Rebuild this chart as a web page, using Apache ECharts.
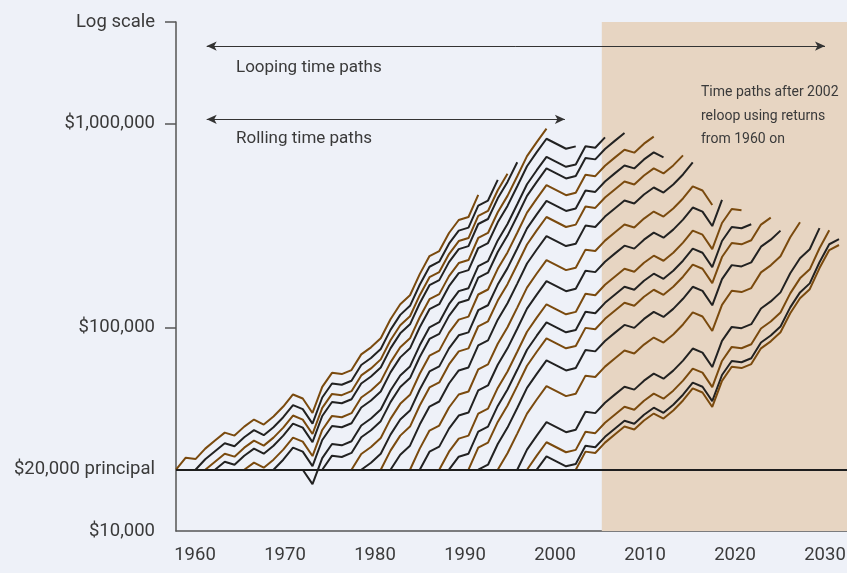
<!DOCTYPE html>
<html>
<head>
<meta charset="utf-8">
<script src="https://cdn.jsdelivr.net/npm/echarts@6/dist/echarts.min.js"></script>
<style>
  html, body { margin: 0; padding: 0; background: #eef1f8; }
  #main { width: 847px; height: 573px; }
</style>
</head>
<body>
<div id="main"></div>
<script>
// growth of $1 over the years, one value per year from 1960
const firstYear = 1960;
const growthIndex = [1.00, 1.146, 1.128, 1.269, 1.390, 1.521, 1.471, 1.628, 1.764, 1.666,
  1.824, 2.043, 2.342, 2.237, 1.900, 2.552, 2.991, 2.948, 3.085, 3.686,
  3.990, 4.419, 5.483, 6.498, 7.196, 9.134, 11.20, 11.86, 14.54, 16.85,
  17.43, 22.38, 23.68, 29.92, 36.03, 45.00, 56.45, 66.18, 77.02, 72.78,
  68.77, 70.66, 86.69, 85.33, 96.00, 105.2, 115.1, 111.3, 123.2, 133.4,
  126.0, 138.0, 154.6, 177.2, 169.2, 143.7, 193.1, 226.3, 223.0, 233.4,
  278.8, 301.8, 334.3, 414.8, 491.6, 544.4, 691.0, 847.3, 897.2];

// each time path starts with the principal in one year and runs pathYears
const principal = 20000;
const pathYears = 31;
const brownStarts = [1960, 1963, 1967, 1978, 1981, 1984, 1987, 1990, 1993, 1996, 2001];
const blackStarts = [1962, 1964, 1970, 1973, 1975, 1979, 1982, 1985, 1988, 1991, 1995, 1997];

const xTickLabels = [1960, 1970, 1980, 1990, 2000, 2010, 2020, 2030];
const yTickLabels = {10000: '$10,000', 20000: '$20,000 principal', 100000: '$100,000',
  1000000: '$1,000,000', 3162277: 'Log scale'};
const yTickMarks = [100000, 1000000, 3162277];

const reloopStart = 2005.2;
const loopingSpan = [1961.3, 2030.0];
const rollingSpan = [1961.3, 2001.1];

const brown = '#7a4a0e';
const black = '#222222';
const textColor = '#3a3a3a';
const font = 'Roboto, "Liberation Sans", sans-serif';

const lastIdx = growthIndex.length - 1;
function pathSeries(sy, color) {
  const s = sy - firstYear;
  const pts = [];
  for (let i = s; i <= Math.min(s + pathYears, lastIdx); i++) {
    pts.push([firstYear + i, principal * growthIndex[i] / growthIndex[s]]);
  }
  return {
    type: 'line',
    xAxisIndex: 0,
    data: pts,
    showSymbol: false,
    silent: true,
    z: 3,
    lineStyle: { color: color, width: 2 }
  };
}
const allPaths = brownStarts.map(function (y) { return [y, brown]; })
  .concat(blackStarts.map(function (y) { return [y, black]; }))
  .sort(function (a, b) { return a[0] - b[0]; })
  .map(function (p) { return pathSeries(p[0], p[1]); });

const chart = echarts.init(document.getElementById('main'));
chart.setOption({
  backgroundColor: '#eef1f8',
  animation: false,
  textStyle: { fontFamily: font },
  grid: { left: 176, right: 0, top: 22, bottom: 42, containLabel: false, outerBoundsMode: 'none' },
  xAxis: [
    { type: 'value', min: firstYear, max: firstYear + 671 / 9.75, show: false },
    {
      type: 'value', position: 'bottom', min: 1957.889, max: 2032.444,
      axisLine: { show: true, onZero: false, lineStyle: { color: '#555', width: 1.5 } },
      axisTick: { show: false },
      splitLine: { show: false },
      axisLabel: {
        customValues: xTickLabels, margin: 15, color: textColor, fontSize: 18.5,
        fontFamily: font, formatter: function (v) { return String(Math.round(v)); }
      }
    }
  ],
  yAxis: {
    type: 'log', logBase: 10, min: 10000, max: 3162278,
    axisLine: { show: true, lineStyle: { color: '#555', width: 1.5 } },
    axisTick: { show: true, customValues: yTickMarks, length: 11, lineStyle: { color: '#555', width: 1.5 } },
    splitLine: { show: false },
    axisLabel: {
      customValues: [10000, 20000, 100000, 1000000, 3162277], margin: 21,
      color: textColor, fontSize: 18.5, fontFamily: font,
      formatter: function (v) { return yTickLabels[Math.round(v)] || ''; }
    }
  },
  series: [{
    type: 'line',
    xAxisIndex: 1,
    data: [],
    silent: true,
    z: 1,
    markArea: {
      silent: true,
      itemStyle: { color: '#e7d5c2' },
      data: [[{ xAxis: reloopStart }, { xAxis: 2032.444 }]]
    },
    markLine: {
      silent: true,
      symbol: ['arrow', 'arrow'],
      symbolSize: [7, 10],
      label: { show: false },
      lineStyle: { color: '#333', width: 1, type: 'solid' },
      data: [
        [{ coord: [loopingSpan[0], 2409000] }, { coord: [loopingSpan[1], 2409000] }],
        [{ coord: [rollingSpan[0], 1052000] }, { coord: [rollingSpan[1], 1052000] }]
      ]
    }
  }, {
    type: 'line',
    xAxisIndex: 1,
    data: [],
    silent: true,
    z: 4,
    markLine: {
      silent: true,
      symbol: ['none', 'none'],
      label: { show: false },
      lineStyle: { color: '#1e1e1e', width: 2, type: 'solid' },
      data: [{ yAxis: principal }]
    }
  }].concat(allPaths),
  graphic: [
    { type: 'text', z: 100, left: 236, top: 59, style: { text: 'Looping time paths', font: '17px ' + font, fill: textColor } },
    { type: 'text', z: 100, left: 236, top: 130, style: { text: 'Rolling time paths', font: '17px ' + font, fill: textColor } },
    { type: 'text', z: 100, left: 701, top: 81, style: { text: 'Time paths after 2002\nreloop using returns\nfrom 1960 on', font: '14px ' + font, lineHeight: 23.5, fill: textColor } }
  ]
});
</script>
</body>
</html>
